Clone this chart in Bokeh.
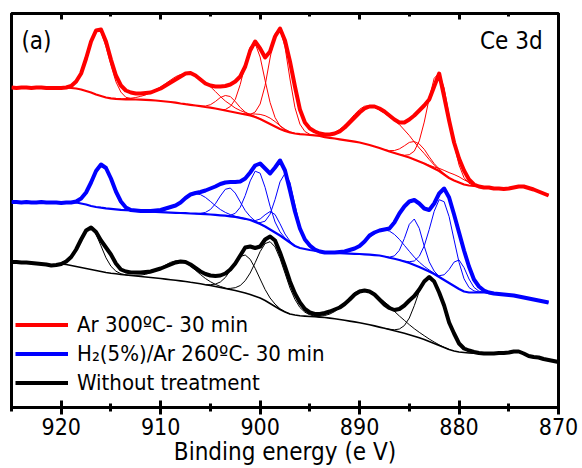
from bokeh.plotting import figure
from bokeh.models import Range1d, LinearAxis, SingleIntervalTicker, Legend, LegendItem, Label
from bokeh.embed import file_html
from bokeh.resources import INLINE

# Binding energy grid (eV), 0.5 eV steps from 925 to 870
energy = [925.0 - 0.5 * i for i in range(111)]

# ---------------- Ar 300 C - 30 min (red) ----------------
red_env = [
    318, 317.5, 318, 318, 317.5, 318, 318, 317.5, 317.5, 317.5,
    317.5, 318, 319.5, 324, 332, 347, 364, 375, 376, 364,
    346, 330, 320, 315, 313, 312, 312, 312.5, 313, 315,
    317, 320, 323, 326, 329, 332, 332.5, 330, 326, 322,
    320, 319, 319, 319.5, 321, 324, 329, 339, 355, 364,
    357, 348, 354, 369, 377, 365, 344, 319, 296, 283,
    277, 274, 272, 271, 271, 272, 274, 278, 283, 288,
    293, 297, 299, 299, 297, 294, 290, 286, 283, 283,
    286, 290, 295, 300, 306, 319, 332, 309, 285, 263,
    247, 235, 226, 221, 219, 218, 218, 217, 217, 216.5,
    217, 218, 219, 219, 217.5, 216, 214, 212, 210]
red_bg = [
    318, 317.5, 318, 318, 317.5, 318, 318, 317.5, 317.5, 317.5,
    317.5, 318, 317.5, 317, 316, 314.5, 313, 311, 309.5, 308,
    307.2, 306.7, 306.4, 306.2, 306, 306, 305.8, 305.6, 305.3, 305,
    304.5, 304, 303.5, 302.8, 302, 301.3, 300.7, 300, 299.3, 298.5,
    297.8, 297, 296, 295, 294, 293, 292, 291, 290, 288.5,
    286.5, 284, 281.5, 279, 276.5, 274.5, 273, 272, 271.4, 271,
    270.5, 270, 269.5, 268.3, 267.7, 267, 266.2, 265.4, 264.6, 263.8,
    263, 261.8, 260.5, 259, 257.5, 255.8, 254, 252.5, 251, 249.5,
    248, 246, 244, 242, 239.5, 237, 234.5, 231, 227.5, 225,
    223, 221, 220, 219.5, 219, 218, 218, 217, 217, 216.5,
    217, 218, 219, 219, 217.5, 216, 214, 212, 210]
# fitted components: (first energy, heights above background)
red_peaks = [
    (919.5, [0, 2, 7, 17, 33, 51, 64, 64, 51, 33, 17, 7, 2, 1, 0]),
    (914.0, [0, 0.7, 1.3, 2, 3.4, 5, 8, 11, 14, 18, 22, 26, 29, 30.5, 31, 30, 28, 24.5, 21, 17,
             13, 9.5, 7, 4.5, 3, 2, 1, 0.5, 0]),
    (906.0, [0, 1, 3, 7, 12, 15, 15, 11, 6, 2.5, 0.7, 0]),
    (904.0, [0, 1, 5, 13, 29, 50, 68.5, 73.5, 62, 41, 21.5, 9, 3, 1, 0]),
    (901.5, [0, 1, 5, 15, 36, 66, 93, 100, 84, 53.5, 26, 10, 3, 0.7, 0]),
    (902.0, [0, 0.7, 1.6, 3, 4.6, 5.8, 5.9, 4.9, 3.3, 1.8, 0.8, 0]),
    (895.0, [0, 0.4, 1, 1.9, 3.5, 6.2, 10, 15, 21, 27.4, 33.2, 37.5, 39.5, 39, 38, 36.5, 34.5,
             32.5, 30, 26, 22, 17.5, 13.5, 10, 6.5, 3.5, 1.5, 0.5, 0]),
    (887.5, [0, 0.9, 2.5, 5.6, 10.2, 15.1, 18, 17.5, 14.2, 9.2, 4.9, 2.1, 0.7, 0]),
    (886.0, [0, 0.7, 2.8, 8.4, 20.6, 41.4, 67.7, 90.2, 98, 86.5, 62.4, 36.6, 17.5, 6.8, 2.2, 0.6, 0]),
    (883.5, [0, 0.75, 1.5, 2.7, 4.1, 5.4, 6, 5.7, 4.7, 3.3, 2, 1, 0.4, 0]),
]

# ---------------- H2(5%)/Ar 260 C - 30 min (blue) ----------------
blue_env = [
    203.5, 203.5, 203, 203.5, 203, 203, 203.5, 203, 203, 203,
    202.5, 203, 203, 204, 207, 213, 223, 234.5, 241, 237.5,
    227, 214, 204, 198, 195.5, 195, 194.5, 194.5, 194.5, 195,
    195.5, 197, 198.5, 200, 203, 207.5, 211, 212.5, 213.5, 215,
    217, 219, 221.5, 223, 223.5, 223.5, 224, 227, 233, 240,
    242, 237, 232, 238, 245, 235, 215, 194, 177, 166,
    160, 156, 154, 153, 153, 153, 153.5, 154, 155.5, 157,
    159.5, 164, 170, 173, 175, 176, 177, 183, 192, 199,
    204, 205.5, 202, 197, 195.5, 202, 212, 217, 208, 191,
    173, 155, 139, 126, 119, 115, 113, 112, 111.5, 111,
    110.5, 110, 109, 108, 107, 106, 105, 104, 103]
blue_bg = [
    203.5, 203.5, 203, 203.5, 203, 203, 203.5, 203, 203, 203,
    202.5, 203, 203, 203, 202, 201, 199.5, 198.5, 197.8, 197.2,
    196.7, 196.2, 195.7, 195.3, 195, 194.7, 194.4, 194.1, 193.8, 193.5,
    193.3, 193.1, 192.9, 192.7, 192.5, 192.3, 192, 191.8, 191.6, 191.3,
    191, 190.6, 190.2, 189.8, 189.2, 188.5, 187.7, 186.7, 185.5, 183.5,
    181.5, 179, 176, 173, 170, 166.5, 163, 159.5, 157.5, 156.5,
    155.5, 154.8, 153.8, 153, 152.7, 152.5, 152.3, 152.1, 151.9, 151.7,
    151.5, 151.2, 150.8, 150.4, 150, 149, 147.8, 146.7, 145.5, 144,
    142.5, 140.5, 138.5, 136.3, 134, 131.5, 128.5, 125.5, 122.5, 119.5,
    116.5, 114, 113, 113, 113, 113, 112.5, 112, 111.5, 111,
    110.5, 110, 109, 108, 107, 106, 105, 104, 103]
blue_peaks = [
    (919.0, [0, 1.2, 4.3, 11.2, 22.8, 35.6, 42.7, 39.6, 28.1, 15.4, 6.5, 2.1, 0.5, 0]),
    (911.0, [0, 0.5, 1.25, 2.6, 4.7, 7.8, 11.6, 15.4, 18.5, 20, 19.3, 16.8, 13.1, 9.2, 5.8, 3.3,
             1.7, 0.8, 0.3, 0]),
    (906.5, [0, 0.5, 1.8, 5, 11.1, 19.3, 26.4, 28.3, 23.9, 15.9, 8.3, 3.4, 1.1, 0.3, 0]),
    (903.5, [0, 1, 3.7, 10.5, 23.2, 39.1, 50.8, 50.8, 39.1, 23.2, 10.5, 3.7, 1, 0]),
    (900.5, [0, 1.4, 5.3, 15.3, 33, 53.7, 65.6, 60.2, 41.5, 21.5, 8.4, 2.4, 0.6, 0]),
    (901.0, [0, 1.4, 5, 11.7, 18, 18, 11.7, 5, 1.4, 0.25, 0]),
    (893.5, [0, 0.2, 0.4, 0.8, 1.7, 3.1, 5.4, 8.6, 12.6, 17.1, 21.5, 25, 26.7, 26.6, 24.4, 20.7,
             16.2, 11.7, 7.9, 4.9, 2.8, 1.5, 0.7, 0.3, 0]),
    (887.5, [0, 0.6, 2.9, 9.7, 23, 38.7, 46, 38.7, 23, 9.7, 2.9, 0.6, 0]),
    (886.0, [0, 0.4, 1.3, 4, 10.7, 23.3, 42, 62.7, 77.3, 78.3, 66.4, 46.2, 26.6, 12.7, 5, 1.6, 0.5, 0]),
    (883.0, [0, 0.2, 1.3, 5.2, 13.5, 23.9, 29, 23.9, 13.5, 5.2, 1.3, 0.2, 0]),
]

# ---------------- Without treatment (black) ----------------
black_env = [
    143.5, 143.5, 143, 143, 142.5, 142, 141.5, 141, 140, 140.5,
    141.5, 144, 148.5, 156, 166, 175, 178, 173.5, 165, 158,
    151, 142, 136, 134, 133, 133, 133, 133.5, 134, 135.5,
    137, 139, 141, 143, 144, 143.5, 141, 137.5, 134, 131.5,
    130, 129.5, 130, 132, 136, 142, 150, 158, 159, 157.5,
    159, 166, 169, 165, 153, 139, 124, 112, 103, 96.5,
    93, 91.5, 91.5, 92.5, 94, 96, 98, 101.5, 106, 111,
    114, 115, 114, 111, 106, 101, 97.5, 95.5, 96.5, 100,
    105, 109.5, 116, 124, 128.5, 124, 113, 100, 83, 72,
    62, 57, 55, 53.5, 52.5, 52, 52, 52, 52.5, 52.5,
    53, 54, 54, 52, 49.5, 48.5, 48, 46.5, 45.5, 44.5,
    43.5]
black_bg = [
    143.5, 143.5, 143, 143, 142.5, 142, 141.5, 141, 140, 140.5,
    141.5, 141, 140, 139, 138, 137, 136, 135, 134, 133,
    132.3, 131.7, 131, 130.5, 130, 129.5, 129, 128.5, 128, 127.5,
    127, 126.4, 125.8, 125.2, 124.6, 124, 123.2, 122.5, 121.7, 120.8,
    120, 119, 118, 117, 116, 115, 113.8, 112.5, 111, 109.3,
    107.5, 105, 102, 99, 96, 93.5, 91.5, 90.5, 89.8, 89.4,
    89, 88.7, 88.4, 88, 87.4, 86.7, 86, 85.2, 84.4, 83.6,
    82.8, 81.8, 80.8, 79.6, 78.4, 77.2, 76, 74.7, 73.5, 72.2,
    70.8, 69.3, 67.7, 66, 64, 62, 60, 58, 56, 54.5,
    53.5, 53, 52.5, 52.2, 52, 52, 52, 52, 52.5, 52.5,
    53, 54, 54, 52, 49.5, 48.5, 48, 46.5, 45.5, 44.5,
    43.5]
black_peaks = [
    (920.5, [0, 1.3, 4, 9.5, 18.8, 30.1, 39.3, 41.7, 36.2, 25.6, 14.7, 6.9, 2.6, 0.8, 0.2, 0]),
    (913.0, [0, 0.7, 1.4, 2.7, 4.7, 7.4, 10.7, 14.2, 17.4, 19.5, 20, 18.8, 16.2, 12.8, 9.3, 6.2,
             3.8, 2.1, 1.1, 0.5, 0]),
    (905.5, [0, 0.8, 2.4, 5.5, 11, 19, 27.9, 35.2, 38, 35.2, 27.9, 19, 11, 5.5, 2.4, 0.8, 0.3, 0]),
    (903.5, [0, 1.1, 2.8, 6.2, 12.3, 21.5, 33.5, 46.4, 56.9, 61.8, 59.6, 51, 38.8, 26, 15.6, 8.2,
             3.9, 1.6, 0.6, 0]),
    (895.0, [0, 0.4, 0.9, 2, 4, 7.3, 11.9, 17.7, 23.8, 29.2, 32.4, 33, 32.5, 31, 29, 26.5, 23.5,
             19.5, 16, 13, 10, 7.5, 5.5, 3.8, 2.5, 1.5, 0.7, 0.2, 0]),
    (887.5, [0, 0.3, 1, 3, 7.7, 16.7, 30.5, 46.5, 59.6, 64, 60.5, 52.3, 42, 27, 17.5, 8.5, 4, 2.5,
             1.3, 0.5, 0]),
]

labels = ["Ar 300ºC- 30 min", "H₂(5%)/Ar 260ºC- 30 min", "Without treatment"]
colors = ["#ff0000", "#0000ff", "#000000"]

FONT = "DejaVu Sans Condensed"

p = figure(width=582, height=468, x_range=Range1d(925, 870), y_range=Range1d(-2, 392),
           output_backend="svg", toolbar_location=None, y_axis_location=None,
           min_border_left=11, min_border_right=24, min_border_top=13, min_border_bottom=61)
p.grid.visible = False
p.outline_line_color = "black"
p.outline_line_width = 3
p.background_fill_color = "white"
p.border_fill_color = "white"

ax = p.xaxis[0]
ax.ticker = SingleIntervalTicker(interval=10, num_minor_ticks=2)
ax.axis_line_width = 3
ax.major_tick_line_width = 3
ax.minor_tick_line_width = 3
ax.major_tick_in = 7
ax.major_tick_out = 7
ax.minor_tick_in = 4
ax.minor_tick_out = 4
ax.major_label_text_font = FONT
ax.major_label_text_font_size = "23px"
ax.major_label_text_color = "black"
ax.major_label_standoff = 3
ax.axis_label = "Binding energy (e V)"
ax.axis_label_text_font = FONT
ax.axis_label_text_font_size = "24px"
ax.axis_label_text_font_style = "normal"
ax.axis_label_text_color = "black"
ax.axis_label_standoff = 0

top = LinearAxis(ticker=SingleIntervalTicker(interval=10, num_minor_ticks=2),
                 major_label_text_font_size="1px", major_label_text_color=None,
                 major_label_standoff=0,
                 major_tick_in=6, major_tick_out=0, minor_tick_in=3, minor_tick_out=0,
                 axis_line_width=3, major_tick_line_width=3, minor_tick_line_width=3)
p.add_layout(top, "above")

spectra = [(red_env, red_bg, red_peaks, 2.2), (blue_env, blue_bg, blue_peaks, 2.2),
           (black_env, black_bg, black_peaks, 1.6)]
env_renderers = []
for (env, bg, peaks, bgw), color in zip(spectra, colors):
    p.line(energy[:len(bg)], bg, line_color=color, line_width=bgw)
    xs, ys = [], []
    for start, heights in peaks:
        i0 = energy.index(start)
        xs.append(energy[i0:i0 + len(heights)])
        ys.append([bg[i0 + k] + h for k, h in enumerate(heights)])
    p.multi_line(xs, ys, line_color=color, line_width=1)
    r = p.line(energy[:len(env)], env, line_color=color, line_width=4, line_join="round")
    env_renderers.append(r)

legend = Legend(items=[LegendItem(label=lab, renderers=[r]) for lab, r in zip(labels, env_renderers)],
                location=(4, 10), glyph_width=53, glyph_height=29, label_height=29, spacing=0,
                label_standoff=9, padding=0, margin=0, border_line_color=None,
                background_fill_alpha=0, label_text_font=FONT, label_text_font_size="22px",
                label_text_color="black")
p.add_layout(legend)

p.add_layout(Label(x=924.0, y=365, text="(a)", text_font=FONT, text_font_size="24px",
                   text_baseline="alphabetic", text_align="left", text_color="black"))
p.add_layout(Label(x=871.6, y=365, text="Ce 3d", text_font=FONT, text_font_size="24px",
                   text_baseline="alphabetic", text_align="right", text_color="black"))

open("out.html", "w").write(file_html(p, INLINE))
